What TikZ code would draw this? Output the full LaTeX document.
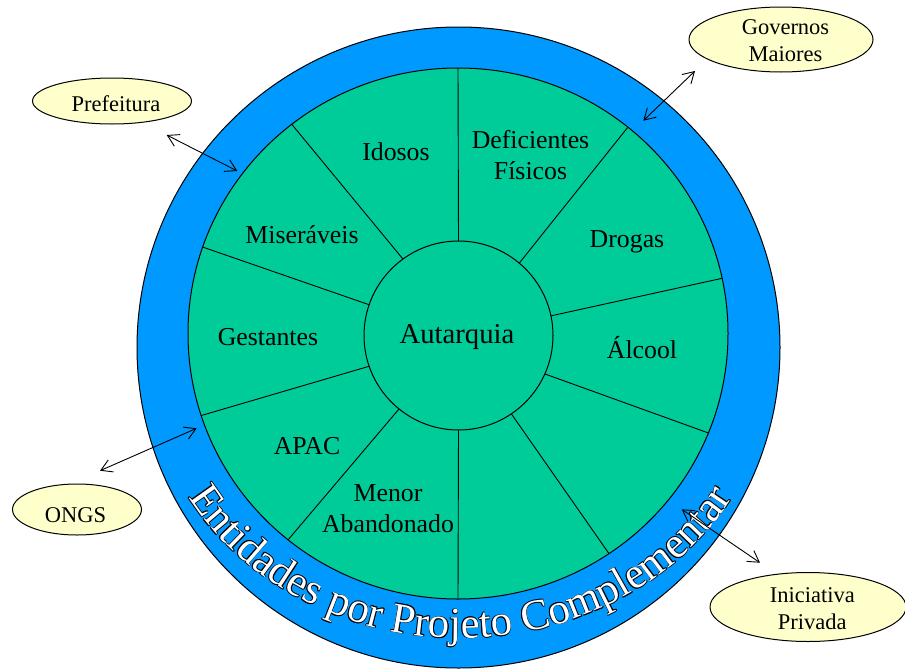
\documentclass[tikz,border=0pt]{standalone}
\usepackage{fontspec}
\setmainfont{Liberation Serif}
\usetikzlibrary{arrows.meta,decorations.text,shapes.geometric}
\definecolor{bandblue}{RGB}{0,153,255}
\definecolor{sectgreen}{RGB}{0,204,153}
\definecolor{ovalyellow}{RGB}{255,255,204}
\begin{document}
\begin{tikzpicture}[x=1pt,y=-1pt,
  ring/.style={draw=black,line width=1pt},
  divider/.style={draw=black,line width=0.9pt},
  sectlabel/.style={font=\fontsize{25.8}{31}\selectfont,align=center,inner sep=0pt},
  centrelabel/.style={font=\fontsize{28.7}{34}\selectfont,inner sep=0pt},
  ovallabel/.style={font=\fontsize{22.5}{27}\selectfont,align=center,inner sep=0pt},
  oval/.style={ellipse,draw=black,line width=1pt,fill=ovalyellow,inner sep=0pt},
  link/.style={draw=black,line width=0.9pt,{Straight Barb[length=11pt,width=13pt]}-{Straight Barb[length=11pt,width=13pt]}}]
\useasboundingbox (0,0) rectangle (905,672);

\coordinate (cb) at (458.5,347.5);
\coordinate (cg) at (458,333.5);
\coordinate (ci) at (458.5,335.5);

% rings
\draw[ring,fill=bandblue] (cb) ellipse [x radius=321.5,y radius=320.5];
\draw[ring,fill=sectgreen] (cg) ellipse [x radius=270,y radius=265.5];

% sector dividers (inner angle / outer angle, measured counter-clockwise)
\foreach \ai/\ao [count=\i] in {90/90,50/51,12/12,-24/-22,-56/-56,-90/-90,231/231,199/198,161/161,126/128} {
  \path (ci) ++(-\ai:94.5) coordinate (in\i);
  \path (cg) ++(-\ao:270 and 265.5) coordinate (out\i);
  \draw[divider] (in\i) -- (out\i);
}

\draw[ring,fill=sectgreen] (ci) circle [radius=94.5];

% sector labels
\node[sectlabel,anchor=base] (idosos) at (396,160) {Idosos};
\node[sectlabel] (deficientes) at (530.5,154.7) {Deficientes\\Físicos};
\node[sectlabel,anchor=base] (drogas) at (627,247) {Drogas};
\node[sectlabel,anchor=base] (alcool) at (642,358) {Álcool};
\node[sectlabel,anchor=base] (gestantes) at (268,345) {Gestantes};
\node[sectlabel,anchor=base] (miseraveis) at (302,243) {Miseráveis};
\node[sectlabel,anchor=base] (apac) at (307,454) {APAC};
\node[sectlabel] (menor) at (388,508.2) {Menor\\Abandonado};
\node[centrelabel,anchor=base] (autarquia) at (457,343.5) {Autarquia};

% curved outlined text along an elliptic baseline
\foreach \dx/\dy in {0.65/0,-0.65/0,0/0.65,0/-0.65,0.45/0.45,-0.45/0.45,0.45/-0.45,-0.45/-0.45} {
  \path[shift={(\dx,\dy)},decorate,decoration={text along path,text align=center,
    text={|\fontsize{43}{50}\selectfont\color{black}|Entidades por Projeto Complementar}}]
    ({460.5+312*cos(170)},{362+276*sin(170)}) arc[start angle=170,end angle=10,x radius=312,y radius=276];
}
\path[decorate,decoration={text along path,text align=center,
    text={|\fontsize{43}{50}\selectfont\color{white}|Entidades por Projeto Complementar}}]
    ({460.5+312*cos(170)},{362+276*sin(170)}) arc[start angle=170,end angle=10,x radius=312,y radius=276];

% outside ovals
\node[oval,minimum width=184pt,minimum height=65pt] (governos) at (781,39.5) {};
\node[ovallabel] (governostext) at (785.5,40.8) {Governos\\Maiores};
\node[oval,minimum width=159pt,minimum height=46pt] (prefeitura) at (112,101) {};
\node[ovallabel,anchor=base] (prefeituratext) at (116,111.5) {Prefeitura};
\node[oval,minimum width=129pt,minimum height=51pt] (ongs) at (77,509.5) {};
\node[ovallabel,anchor=base] (ongstext) at (75.5,522.5) {ONGS};
\node[oval,minimum width=196pt,minimum height=69pt] (iniciativa) at (808,607) {};
\node[ovallabel] (iniciativatext) at (812.3,608.8) {Iniciativa\\Privada};

% double arrows
\coordinate (govA) at (695,71);
\coordinate (govB) at (643.3,120.7);
\coordinate (prefA) at (166.7,135);
\coordinate (prefB) at (237.3,171);
\coordinate (ongsA) at (196.7,428.3);
\coordinate (ongsB) at (100,470.7);
\coordinate (iniA) at (681.7,509.3);
\coordinate (iniB) at (760,562.7);
\draw[link] (govA) -- (govB);
\draw[link] (prefA) -- (prefB);
\draw[link] (ongsA) -- (ongsB);
\draw[link] (iniA) -- (iniB);
\end{tikzpicture}
\end{document}
